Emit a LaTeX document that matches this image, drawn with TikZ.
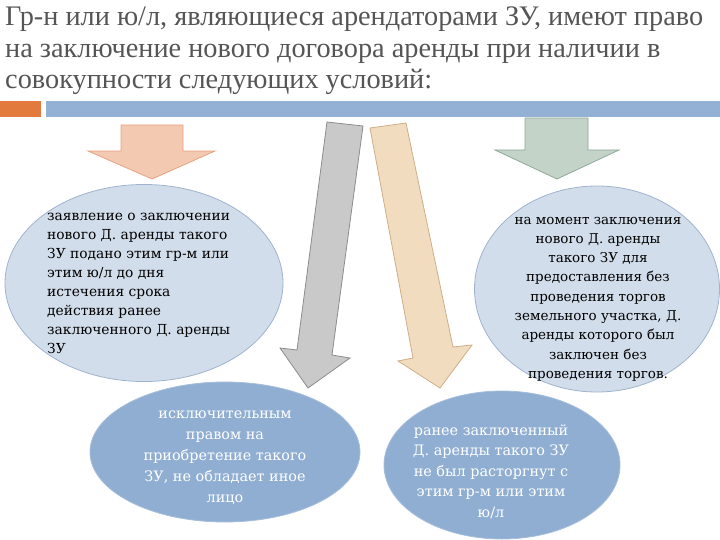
\documentclass[tikz,border=0pt]{standalone}
\usepackage{fontspec}
\setmainfont{Liberation Serif}
\newfontfamily\titlefont{Liberation Serif}
\newfontfamily\bodyfont{DejaVu Serif}
\usetikzlibrary{shapes.geometric}
\definecolor{titlegray}{RGB}{85,85,85}
\definecolor{barorange}{RGB}{226,122,62}
\definecolor{barblue}{RGB}{147,176,213}
\definecolor{salmonfill}{RGB}{244,201,178}
\definecolor{salmonline}{RGB}{228,164,130}
\definecolor{lightell}{RGB}{210,221,235}
\definecolor{lightellline}{RGB}{160,179,204}
\definecolor{darkell}{RGB}{144,174,210}
\definecolor{grayfill}{RGB}{201,201,201}
\definecolor{grayline}{RGB}{140,140,140}
\definecolor{tanfill}{RGB}{241,220,192}
\definecolor{tanline}{RGB}{205,175,135}
\definecolor{greenfill}{RGB}{195,211,200}
\definecolor{greenline}{RGB}{145,168,154}
\tikzset{
  titletext/.style={anchor=base west, inner sep=0, text=titlegray, font=\titlefont\fontsize{28.3}{32}\selectfont},
  lightellipse/.style={ellipse, draw=lightellline, fill=lightell, line width=0.8pt, inner sep=0},
  darkellipse/.style={ellipse, draw=darkell!80!white, fill=darkell, line width=0.8pt, inner sep=0},
  bodytext/.style={inner sep=0},
  whitetext/.style={bodytext, text=white, align=center},
  blockarrow/.style={line width=0.8pt, line join=miter}
}
\begin{document}
\begin{tikzpicture}[x=1pt,y=-1pt]
\useasboundingbox (0,0) rectangle (720,540);
% title
\node[titletext] (title1) at (5,26) {Гр-н или ю/л, являющиеся арендаторами ЗУ, имеют право};
\node[titletext] (title2) at (5,57.5) {на заключение нового договора аренды при наличии в};
\node[titletext] (title3) at (5,89) {совокупности следующих условий:};
% bars
\fill[barorange] (0,101) rectangle (41,117);
\fill[barblue] (46,101) rectangle (720,117);
% top-left salmon arrow
\draw[blockarrow, fill=salmonfill, draw=salmonline]
  (121,125) -- (183,125) -- (183,151) -- (215,151) -- (152,179) -- (88,151) -- (121,151) -- cycle;
% top-right green arrow
\draw[blockarrow, fill=greenfill, draw=greenline]
  (525,118) -- (588,118) -- (588,150) -- (619,150) -- (557,179) -- (495,150) -- (525,150) -- cycle;
% gray slanted arrow
\draw[blockarrow, fill=grayfill, draw=grayline]
  (327,122) -- (363,126) -- (332,355) -- (350,358) -- (308,388) -- (280,348) -- (297,350) -- cycle;
% tan slanted arrow
\draw[blockarrow, fill=tanfill, draw=tanline]
  (370,128) -- (406,123) -- (453,347) -- (472,345) -- (440,388) -- (398,361) -- (413,358) -- cycle;
% ellipses
\node[lightellipse, minimum width=278, minimum height=197] (e1) at (144,283) {};
\node[lightellipse, minimum width=245, minimum height=206] (e2) at (597,289) {};
\node[darkellipse, minimum width=270, minimum height=140] (e3) at (225,452) {};
\node[darkellipse, minimum width=236, minimum height=148] (e4) at (502,465) {};
% texts
\node[bodytext, align=left, anchor=base west, font=\bodyfont\fontsize{13.8}{19}\selectfont] (t1) at (47,353) {заявление о заключении\\нового Д. аренды такого\\ЗУ подано этим гр-м или\\этим ю/л до дня\\истечения срока\\действия ранее\\заключенного Д. аренды\\ЗУ};
\node[bodytext, align=center, anchor=base, font=\bodyfont\fontsize{13.5}{19.3}\selectfont] (t2) at (598,378.4) {на момент заключения\\нового Д. аренды\\такого ЗУ для\\предоставления без\\проведения торгов\\земельного участка, Д.\\аренды которого был\\заключен без\\проведения торгов.};
\node[whitetext, anchor=base, font=\bodyfont\fontsize{14.4}{21}\selectfont] (t3) at (225,502) {исключительным\\правом на\\приобретение такого\\ЗУ, не обладает иное\\лицо};
\node[whitetext, anchor=base, font=\bodyfont\fontsize{14.4}{20.5}\selectfont] (t4) at (491,517) {ранее заключенный\\Д. аренды такого ЗУ\\не был расторгнут с\\этим гр-м или этим\\ю/л};
\end{tikzpicture}
\end{document}
